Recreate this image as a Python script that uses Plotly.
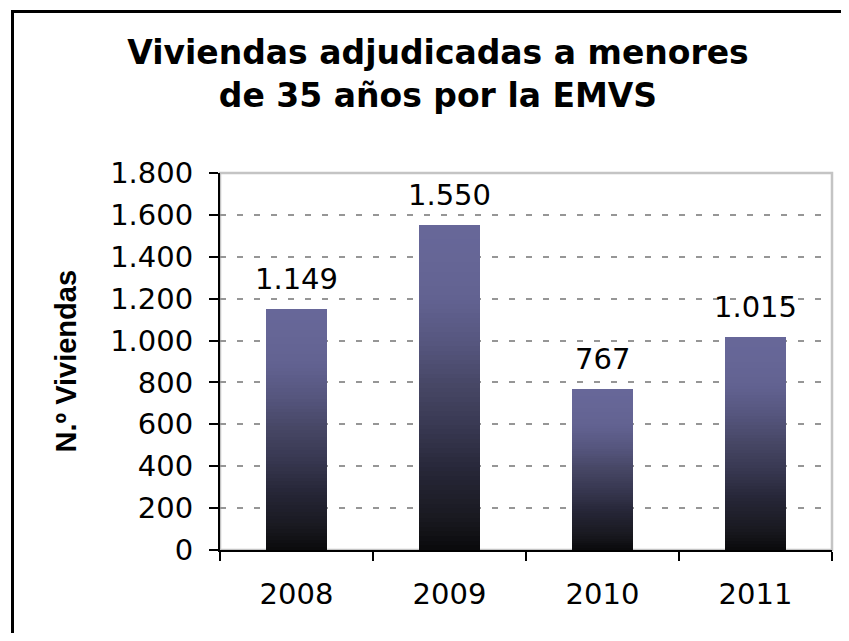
import plotly.graph_objects as go

# data
years = ['2008', '2009', '2010', '2011']
viviendas = [1149, 1550, 767, 1015]
y_ticks = list(range(0, 1801, 200))

# gradient stops for the bars (fraction of bar height from bottom -> rgb)
grad_stops = [(0.0, (10, 10, 12)), (0.1, (25, 25, 32)), (0.24, (38, 38, 55)),
              (0.37, (55, 55, 80)), (0.5, (70, 70, 100)), (0.63, (85, 85, 125)),
              (0.77, (98, 98, 145)), (0.9, (102, 102, 150)), (1.0, (103, 103, 153))]


def grad_color(f):
    for (f0, c0), (f1, c1) in zip(grad_stops[:-1], grad_stops[1:]):
        if f0 <= f <= f1:
            t = (f - f0) / (f1 - f0)
            rgb = [round(a + (b - a) * t) for a, b in zip(c0, c1)]
            return 'rgb({},{},{})'.format(*rgb)
    return 'rgb(103,103,153)'


fmt = lambda v: f"{v:,}".replace(",", ".")

# the page body has an 8px margin, so work in page pixels minus 8
OFF = 8
W, H = 849 - 2 * OFF, 641 - 2 * OFF
# plot area wanted in page pixels: x 220..832, y 173..550
L, T = 220 - OFF, 173 - OFF
R, B = W - (832 - OFF), H - (550 - OFF)
pw, ph = W - L - R, H - T - B


def px_x(p):
    return (p - OFF - L) / pw


def px_y(p):
    return 1 - (p - OFF - T) / ph


fig = go.Figure()

# each bar is built from thin stacked slices to fake the vertical gradient
n_slices = 70
for k in range(n_slices):
    fig.add_trace(go.Bar(
        x=years,
        y=[v / n_slices for v in viviendas],
        marker=dict(color=grad_color((k + 0.5) / n_slices), line=dict(width=0)),
        hoverinfo='skip',
        showlegend=False,
    ))

# value labels above the bars (category axis -> use index)
for i, v in enumerate(viviendas):
    fig.add_annotation(x=i, y=v, text=fmt(v), showarrow=False,
                       yanchor='middle', yshift=30,
                       font=dict(family='DejaVu Sans', size=29, color='black'))

# y axis title
fig.add_annotation(xref='paper', yref='paper', x=px_x(65), y=0.5,
                   text='<b>N.º Viviendas</b>', textangle=-90, showarrow=False,
                   xanchor='center', yanchor='middle',
                   font=dict(family='Liberation Sans', size=29, color='black'))

# light gray plot area border (top / right)
fig.add_shape(type='rect', xref='paper', yref='paper', x0=0, x1=1, y0=0, y1=1,
              line=dict(color='#c4c4c4', width=2.5), layer='below')

# outer chart border (right and bottom sides fall outside the picture)
fig.add_shape(type='rect', xref='paper', yref='paper',
              x0=px_x(12.5), x1=px_x(870), y0=px_y(660), y1=px_y(11.5),
              line=dict(color='black', width=3))

fig.update_layout(
    width=W, height=H,
    margin=dict(l=L, r=R, t=T, b=B),
    paper_bgcolor='white', plot_bgcolor='white',
    barmode='stack', bargap=0.6,
    separators=',.',
    title=dict(text='<b>Viviendas adjudicadas a menores<br>de 35 años por la EMVS</b>',
               x=(438 - OFF) / W, xanchor='center', xref='container',
               y=1 - (64 - OFF) / H, yanchor='middle', yref='container',
               font=dict(family='DejaVu Sans', size=33, color='black')),
)

fig.update_xaxes(
    type='category', showline=True, linecolor='black', linewidth=2,
    ticks='outside', tickson='boundaries', ticklen=9, tickwidth=2, tickcolor='black',
    ticklabelstandoff=17, showgrid=False,
    tickfont=dict(family='DejaVu Sans', size=29, color='black'),
)
fig.update_yaxes(
    range=[0, 1800], tickvals=y_ticks, tickformat=',d',
    showline=True, linecolor='black', linewidth=2,
    ticks='outside', ticklen=9, tickwidth=2, tickcolor='black',
    ticklabelstandoff=10, zeroline=False,
    showgrid=True, gridcolor='#969696', gridwidth=2, griddash='6px,11px',
    tickfont=dict(family='DejaVu Sans', size=29, color='black'),
)

fig.write_html("out.html")
